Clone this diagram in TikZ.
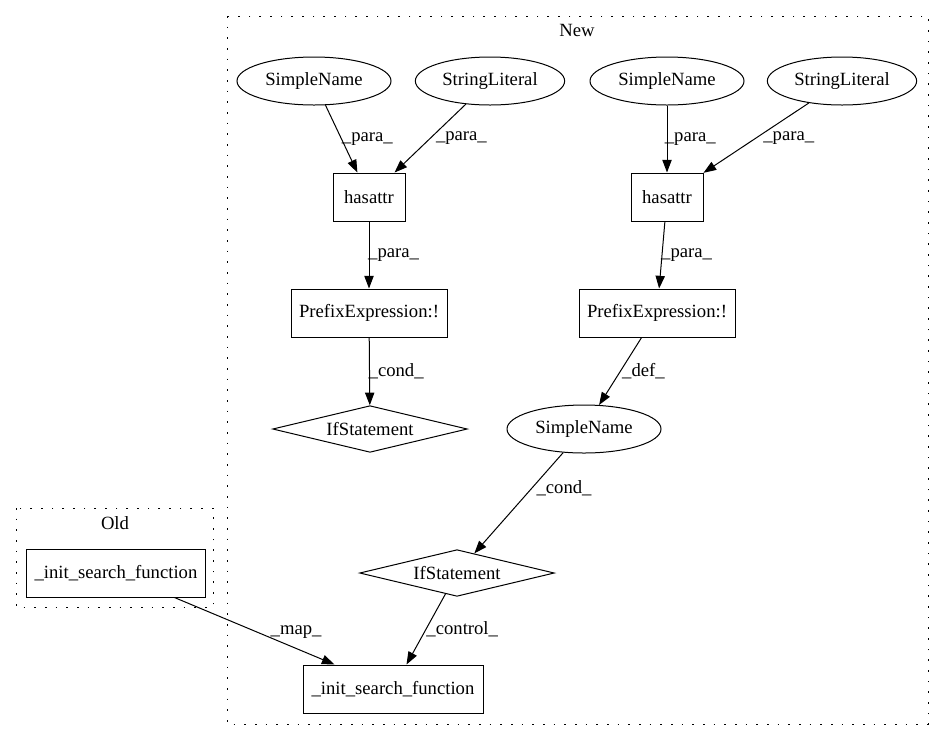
\documentclass[tikz,border=0pt]{standalone}
\usepackage{fontspec}
\setmainfont{Liberation Serif}
\usetikzlibrary{shapes.geometric,arrows.meta}
\begin{document}
\begin{tikzpicture}[x=0.75pt,y=-0.75pt,
  font=\fontsize{14pt}{16pt}\selectfont,
  every node/.style={line width=0.75pt},
  ell/.style={draw,ellipse,inner sep=0pt,minimum width=115.5pt,minimum height=36pt},
  box/.style={draw,rectangle,inner sep=0pt,minimum height=36pt},
  dia/.style={draw,diamond,aspect=4,inner sep=0pt,minimum width=146pt,minimum height=35pt},
  cluster/.style={line width=0.75pt,dash pattern=on 1.3pt off 6.7pt},
  edge/.style={line width=0.75pt,-{Triangle[length=9.5pt,width=7pt]}},
  lbl/.style={anchor=west,inner sep=0pt}]
\useasboundingbox (0,0) rectangle (944,740);
% clusters
\draw[cluster] (227,16) rectangle (928,724);
\node[inner sep=0pt] (newlbl) at (577,30) {New};
\draw[cluster] (16,508) rectangle (213,607);
\node[inner sep=0pt] (oldlbl) at (115,523) {Old};
% nodes
\node[ell] (sn1) at (314,81) {SimpleName};
\node[ell,minimum width=112pt] (sl1) at (490,81) {StringLiteral};
\node[ell] (sn2) at (667,81) {SimpleName};
\node[ell,minimum width=112pt] (sl2) at (842,81) {StringLiteral};
\node[box,minimum width=54pt] (h1) at (369,197) {hasattr};
\node[box,minimum width=54pt] (h2) at (667,197) {hasattr};
\node[box,minimum width=117pt] (pe1) at (369,313) {PrefixExpression:!};
\node[box,minimum width=117pt] (pe2) at (657,313) {PrefixExpression:!};
\node[dia] (if1) at (370,429) {IfStatement};
\node[ell] (sn3) at (584,429) {SimpleName};
\node[dia] (if2) at (457,573) {IfStatement};
\node[box,minimum width=135pt] (initn) at (393,689) {\_init\_search\_function};
\node[box,minimum width=134pt] (inito) at (116,573) {\_init\_search\_function};
% edges
\draw[edge] (sn1) -- (h1) node[lbl,pos=0.5,xshift=0pt] {\_para\_};
\draw[edge] (sl1) -- (h1) node[lbl,pos=0.5,xshift=4pt] {\_para\_};
\draw[edge] (sn2) -- (h2) node[lbl,pos=0.5,xshift=-2pt] {\_para\_};
\draw[edge] (sl2) -- (h2) node[lbl,pos=0.5,xshift=5pt] {\_para\_};
\draw[edge] (h1) -- (pe1) node[lbl,pos=0.5,xshift=-1pt] {\_para\_};
\draw[edge] (h2) -- (pe2) node[lbl,pos=0.5,xshift=-1pt] {\_para\_};
\draw[edge] (pe1) -- (if1) node[lbl,pos=0.5,xshift=-1pt] {\_cond\_};
\draw[edge] (pe2) -- (sn3) node[lbl,pos=0.5,xshift=1pt] {\_def\_};
\draw[edge] (sn3) -- (if2) node[lbl,pos=0.35,xshift=3pt] {\_cond\_};
\draw[edge] (if2) -- (initn) node[lbl,pos=0.5,xshift=0pt] {\_control\_};
\draw[edge] (inito) -- (initn) node[lbl,pos=0.515,xshift=10pt] {\_map\_};
\end{tikzpicture}
\end{document}
